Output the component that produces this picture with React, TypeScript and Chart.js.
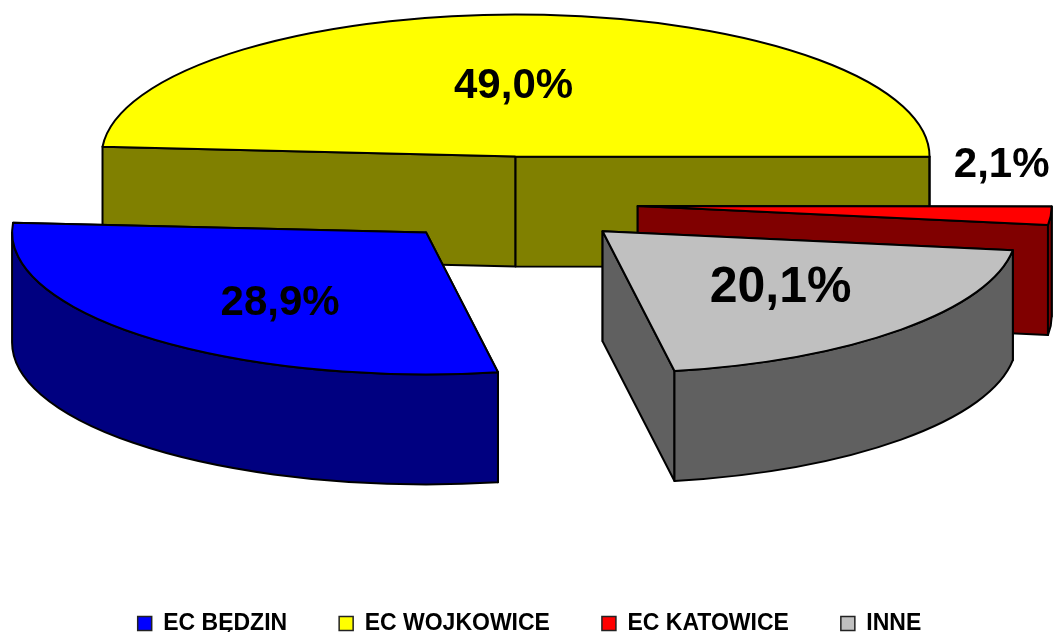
import React, { useEffect, useRef } from "react";
import { Chart, registerables } from "chart.js";

Chart.register(...registerables);

const categories = ["EC BĘDZIN", "EC WOJKOWICE", "EC KATOWICE", "INNE"];
const shares = [28.9, 49.0, 2.1, 20.1];
const topColors = ["#0000FF", "#FFFF00", "#FF0000", "#C0C0C0"];
const sideColors = ["#000080", "#808000", "#800000", "#606060"];
const labelSizes = [42, 42, 42, 50];
const labelShift = [
  [-146, 71],
  [-2, -70],
  [364, -38],
  [178, 58],
];
const sliceDrop = [0, 0, 3, 1];
const paintOrder = [1, 2, 3, 0];

const FONT = '"Liberation Sans", Arial, sans-serif';
const SQUASH = 0.343;
const DEPTH = 110;
const EXPLODE = 127;
const CENTER_X = 511;
const CENTER_Y = 200;
const LINE = 2;

function placeSlice(ctx: any, arc: any, i: number) {
  const mid = (arc.startAngle + arc.endAngle) / 2;
  ctx.translate(CENTER_X, CENTER_Y + sliceDrop[i]);
  ctx.scale(1, SQUASH);
  ctx.translate(Math.cos(mid) * EXPLODE - arc.x, Math.sin(mid) * EXPLODE - arc.y);
}

function paintPath(ctx: any, arc: any, i: number, build: () => void, fill: string | null) {
  ctx.save();
  placeSlice(ctx, arc, i);
  ctx.beginPath();
  build();
  ctx.restore();
  if (fill) {
    ctx.fillStyle = fill;
    ctx.fill();
  }
  ctx.lineWidth = LINE;
  ctx.strokeStyle = "#000";
  ctx.lineJoin = "round";
  ctx.stroke();
}

const pie3d = {
  id: "pie3d",
  afterLayout(chart: any) {
    const legend = chart.legend;
    legend.top += 13;
    legend.bottom += 13;
    legend.left += 3;
    legend.right += 3;
  },
  beforeDatasetDraw(chart: any) {
    const ctx = chart.ctx;
    const arcs = chart.getDatasetMeta(0).data;
    const d = DEPTH / SQUASH;
    paintOrder.forEach((i) => {
      const arc = arcs[i];
      const { x, y, startAngle: s, endAngle: e, outerRadius: r } = arc;
      const dark = sideColors[i];
      [s, e].forEach((a) => {
        const px = x + r * Math.cos(a);
        const py = y + r * Math.sin(a);
        paintPath(
          ctx,
          arc,
          i,
          () => {
            ctx.moveTo(x, y);
            ctx.lineTo(px, py);
            ctx.lineTo(px, py + d);
            ctx.lineTo(x, y + d);
            ctx.closePath();
          },
          dark
        );
      });
      for (let k = 0; k < 2; k++) {
        const a0 = Math.max(s, k * 2 * Math.PI);
        const a1 = Math.min(e, k * 2 * Math.PI + Math.PI);
        if (a1 > a0) {
          paintPath(
            ctx,
            arc,
            i,
            () => {
              ctx.arc(x, y, r, a0, a1);
              ctx.arc(x, y + d, r, a1, a0, true);
              ctx.closePath();
            },
            dark
          );
        }
      }
      ctx.save();
      placeSlice(ctx, arc, i);
      arc.draw(ctx);
      ctx.restore();
      paintPath(
        ctx,
        arc,
        i,
        () => {
          ctx.moveTo(x, y);
          ctx.arc(x, y, r, s, e);
          ctx.closePath();
        },
        null
      );
    });
    return false;
  },
  afterDatasetsDraw(chart: any) {
    const ctx = chart.ctx;
    const arcs = chart.getDatasetMeta(0).data;
    arcs.forEach((arc: any, i: number) => {
      const mid = (arc.startAngle + arc.endAngle) / 2;
      const apexX = CENTER_X + Math.cos(mid) * EXPLODE;
      const apexY = CENTER_Y + Math.sin(mid) * EXPLODE * SQUASH;
      ctx.save();
      ctx.fillStyle = "#000";
      ctx.font = `bold ${labelSizes[i]}px ${FONT}`;
      ctx.textAlign = "center";
      ctx.textBaseline = "middle";
      ctx.fillText(
        shares[i].toFixed(1).replace(".", ",") + "%",
        apexX + labelShift[i][0],
        apexY + labelShift[i][1]
      );
      ctx.restore();
    });
  },
};

export default function App() {
  const ref = useRef<HTMLCanvasElement | null>(null);
  useEffect(() => {
    document.body.style.margin = "0";
    document.body.style.background = "#fff";
    const chart = new Chart(ref.current as HTMLCanvasElement, {
      type: "pie",
      data: {
        labels: categories,
        datasets: [
          {
            data: shares,
            backgroundColor: topColors,
            borderWidth: 0,
            clip: false,
          } as any,
        ],
      },
      options: {
        responsive: false,
        maintainAspectRatio: false,
        animation: false,
        rotation: 170,
        radius: 414,
        events: [],
        plugins: {
          tooltip: { enabled: false },
          legend: {
            position: "bottom",
            labels: {
              boxWidth: 14,
              boxHeight: 14,
              padding: 52,
              color: "#000",
              font: { family: FONT, size: 23, weight: "bold" },
              generateLabels(c: any) {
                const base = (Chart as any).overrides.doughnut.plugins.legend.labels.generateLabels(c);
                return base.map((item: any) => ({
                  ...item,
                  lineWidth: 1.5,
                  strokeStyle: "#222",
                }));
              },
            },
          },
        },
      } as any,
      plugins: [pie3d as any],
    });
    return () => chart.destroy();
  }, []);
  return <canvas ref={ref} width={1053} height={632} style={{ display: "block" }} />;
}
